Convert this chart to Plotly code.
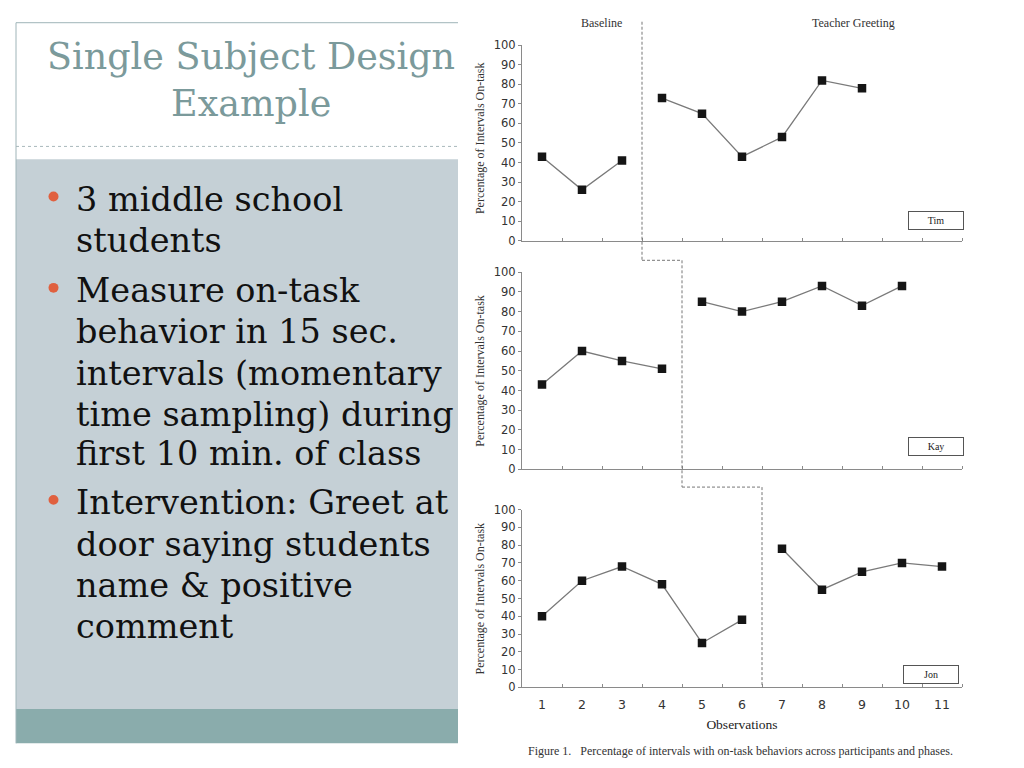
import plotly.graph_objects as go

# ---------------- data ----------------
observations = list(range(1, 12))
x_tick_labels = [str(i) for i in observations]
y_tick_vals = [0, 10, 20, 30, 40, 50, 60, 70, 80, 90, 100]

participants = ["Tim", "Kay", "Jon"]
phase_change = [3.5, 4.5, 6.5]

tim_base_x = [1, 2, 3]
tim_base_y = [43, 26, 41]
tim_treat_x = [4, 5, 6, 7, 8, 9]
tim_treat_y = [73, 65, 43, 53, 82, 78]

kay_base_x = [1, 2, 3, 4]
kay_base_y = [43, 60, 55, 51]
kay_treat_x = [5, 6, 7, 8, 9, 10]
kay_treat_y = [85, 80, 85, 93, 83, 93]

jon_base_x = [1, 2, 3, 4, 5, 6]
jon_base_y = [40, 60, 68, 58, 25, 38]
jon_treat_x = [7, 8, 9, 10, 11]
jon_treat_y = [78, 55, 65, 70, 68]

phase_labels = ["Baseline", "Teacher Greeting"]
y_title = "Percentage of Intervals On-task"
x_title = "Observations"
caption = "Figure 1.   Percentage of intervals with on-task behaviors across participants and phases."

title_lines = ["Single Subject Design", "Example"]
bullet_lines = [
    ["3 middle school", "students"],
    ["Measure on-task", "behavior in 15 sec.", "intervals (momentary",
     "time sampling) during", "first 10 min. of class"],
    ["Intervention: Greet at", "door saying students", "name & positive", "comment"],
]

# ---------------- layout helpers ----------------
W, H = 1024, 768
def px(x):
    return x / W
def py(y):
    return 1 - y / H

# panel pixel boxes (left, right, top, bottom)
panels = [
    (522, 962, 39, 238),
    (522, 962, 270, 471),
    (522, 962, 512, 693),
]

fig = go.Figure()

series = [
    (tim_base_x, tim_base_y, tim_treat_x, tim_treat_y),
    (kay_base_x, kay_base_y, kay_treat_x, kay_treat_y),
    (jon_base_x, jon_base_y, jon_treat_x, jon_treat_y),
]

serif = "Liberation Serif"
sans = "DejaVu Sans"
slide_font = "DejaVu Serif"

for i, (bx, by, tx, ty) in enumerate(series):
    xa = "x" if i == 0 else f"x{i+1}"
    ya = "y" if i == 0 else f"y{i+1}"
    for xs, ys in [(bx, by), (tx, ty)]:
        fig.add_trace(go.Scatter(
            x=xs, y=ys, mode="lines+markers", xaxis=xa, yaxis=ya,
            line=dict(color="#7a7a7a", width=1.3),
            marker=dict(symbol="square", size=8.5, color="#151515",
                        line=dict(color="#151515", width=0)),
            showlegend=False, hoverinfo="skip",
        ))

layout_axes = {}
for i, (l, r, t, b) in enumerate(panels):
    xk = "xaxis" if i == 0 else f"xaxis{i+1}"
    yk = "yaxis" if i == 0 else f"yaxis{i+1}"
    ya = "y" if i == 0 else f"y{i+1}"
    xa = "x" if i == 0 else f"x{i+1}"
    layout_axes[xk] = dict(
        domain=[px(l), px(r)], anchor=ya, range=[0.5, 11.5],
        showgrid=False, zeroline=False, showline=True,
        linecolor="#8a8a8a", linewidth=1,
        tickmode="array", tickvals=observations,
        ticktext=x_tick_labels if i == 2 else [""] * len(observations),
        ticks="", ticklen=0, ticklabelstandoff=6,
        tickfont=dict(family=sans, size=12.5, color="#333333"),
        minor=dict(tickmode="array", tickvals=[v + 0.5 for v in observations],
                   ticks="inside", ticklen=3, tickcolor="#8a8a8a", tickwidth=1),
        fixedrange=True,
    )
    layout_axes[yk] = dict(
        domain=[py(b), py(t)], anchor=xa, range=[0, 100],
        showgrid=False, zeroline=False, showline=True,
        linecolor="#8a8a8a", linewidth=1,
        tickmode="array", tickvals=y_tick_vals,
        ticks="outside", ticklen=3, tickcolor="#8a8a8a",
        tickfont=dict(family=sans, size=11.5, color="#333333"),
        fixedrange=True,
    )
layout_axes["xaxis3"]["title"] = dict(text=x_title, font=dict(family=serif, size=13.5, color="#222222"), standoff=8)

shapes = []
annotations = []

def note(text, x, y, size, family, color, xanchor="center", yanchor="middle", **kw):
    annotations.append(dict(text=text, xref="paper", yref="paper", x=px(x), y=py(y),
                            xanchor=xanchor, yanchor=yanchor, showarrow=False,
                            font=dict(family=family, size=size, color=color), **kw))

# ---- slide decoration ----
shapes.append(dict(type="line", xref="paper", yref="paper", x0=px(16), x1=px(458), y0=py(16), y1=py(16),
                   line=dict(color="#9fb4b8", width=1)))
shapes.append(dict(type="line", xref="paper", yref="paper", x0=px(16), x1=px(16), y0=py(16), y1=py(750),
                   line=dict(color="#9fb4b8", width=1)))
shapes.append(dict(type="line", xref="paper", yref="paper", x0=px(16), x1=px(458), y0=py(142), y1=py(142),
                   line=dict(color="#a9b8bb", width=1, dash="dot")))
shapes.append(dict(type="rect", xref="paper", yref="paper", x0=px(16), x1=px(458), y0=py(715), y1=py(155),
                   fillcolor="#c5d0d6", line=dict(width=0), layer="below"))
shapes.append(dict(type="rect", xref="paper", yref="paper", x0=px(16), x1=px(458), y0=py(750), y1=py(715),
                   fillcolor="#8aacac", line=dict(width=0), layer="below"))

note(title_lines[0], 251, 50, 36.5, slide_font, "#7b9a9b")
note(title_lines[1], 251, 98, 36.5, slide_font, "#7b9a9b")

line_y = [[196, 238], [289, 331, 373, 415, 455], [505, 547, 589, 631]]
for gi, group in enumerate(bullet_lines):
    shapes.append(dict(type="circle", xref="paper", yref="paper",
                       x0=px(48.5), x1=px(58.5), y0=py(line_y[gi][0] + 2), y1=py(line_y[gi][0] - 8),
                       fillcolor="#e0603f", line=dict(width=0)))
    for li, txt in enumerate(group):
        note(txt, 74, line_y[gi][li], 33.5, slide_font, "#111111", xanchor="left")

# ---- chart decorations ----
note(phase_labels[0], 601, 16, 12, serif, "#333333")
note(phase_labels[1], 853, 16, 12, serif, "#333333")

for i, (l, r, t, b) in enumerate(panels):
    note(y_title, 480, (t + b) / 2 - (5 if i == 0 else 0), 12, serif, "#333333", textangle=-90)

name_boxes = [(936, 217), (936, 448), (931, 680)]
for name, (cx, cy) in zip(participants, name_boxes):
    note(name, cx, cy, 10, serif, "#222222", width=52, height=15,
         bordercolor="#555555", borderwidth=1, bgcolor="white")

note(caption, 740, 758, 12, serif, "#333333")

# stepped phase-change line (dashed)
def xpix(v):
    return 522 + (v - 0.5) / 11 * 440
gap_y = [15, 258, 489, 693]
dash_style = dict(color="#777777", width=1, dash="3px,2px")
steps = []
for k, xv in enumerate(phase_change):
    steps.append(((xpix(xv), gap_y[k]), (xpix(xv), gap_y[k + 1])))
    if k + 1 < len(phase_change):
        steps.append(((xpix(xv), gap_y[k + 1]), (xpix(phase_change[k + 1]), gap_y[k + 1])))
for (x0, y0), (x1, y1) in steps:
    shapes.append(dict(type="line", xref="paper", yref="paper", x0=px(x0), x1=px(x1), y0=py(y0), y1=py(y1),
                       line=dash_style))

fig.update_layout(
    width=W, height=H, margin=dict(l=0, r=0, t=0, b=0),
    paper_bgcolor="white", plot_bgcolor="rgba(0,0,0,0)",
    shapes=shapes, annotations=annotations, showlegend=False,
    **layout_axes,
)

post = (
    "document.documentElement.style.margin='0';"
    "document.documentElement.style.overflow='hidden';"
    "document.body.style.margin='0';"
    "document.body.style.overflow='hidden';"
    "var gd=document.getElementById('{plot_id}');"
    "gd.style.position='fixed';gd.style.left='0px';gd.style.top='0px';"
)
fig.write_html("out.html", config={"displayModeBar": False}, post_script=post)
